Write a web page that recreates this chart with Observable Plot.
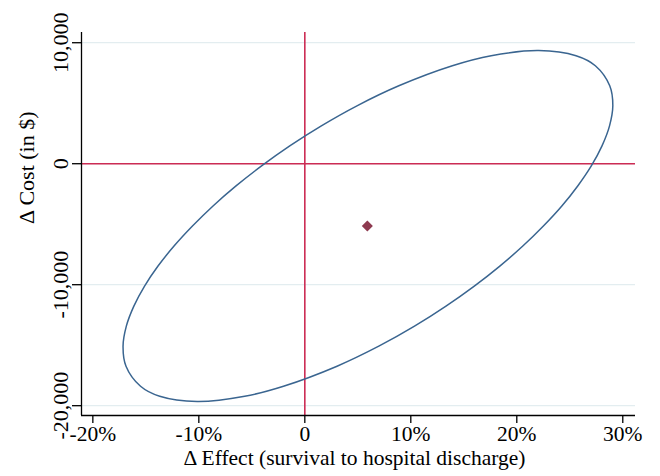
<!DOCTYPE html>
<html><head><meta charset="utf-8">
<script src="https://cdn.jsdelivr.net/npm/d3@7"></script>
<script src="https://cdn.jsdelivr.net/npm/@observablehq/plot@0.6"></script>
<style>
html,body{margin:0;padding:0;background:#fff;}
</style></head><body><div id="chart"></div>
<script>
// Confidence ellipse outline (Δ effect in %, Δ cost in $)
const ellipseEffect = [22.07, 25.59, 27.41, 28.77, 29.06, 28.75, 28.04, 27.03, 25.75, 24.25, 22.51, 20.57, 18.40, 15.99, 13.32, 10.35, 6.98, 3.04, -2.01, -5.67, -10.16, -13.69, -15.50, -16.87, -17.15, -16.84, -16.13, -15.12, -13.85, -12.34, -10.60, -8.66, -6.49, -4.08, -1.42, 1.56, 4.92, 8.87, 13.92, 17.58];
const ellipseCost = [9354, 8924, 8096, 6440, 4785, 3129, 1473, -182, -1838, -3493, -5149, -6805, -8460, -10116, -11771, -13427, -15083, -16738, -18394, -19222, -19652, -19222, -18394, -16738, -15083, -13427, -11771, -10116, -8460, -6805, -5149, -3493, -1838, -182, 1473, 3129, 4785, 6440, 8096, 8924];
// Point estimate
const pointEffect = [5.9];
const pointCost = [-5150];
// Axes
const xTicks = [-20, -10, 0, 10, 20, 30];
const xTickLabels = ["-20%", "-10%", "0", "10%", "20%", "30%"];
const yTicks = [10000, 0, -10000, -20000];
const yTickLabels = ["10,000", "0", "-10,000", "-20,000"];
const xDomain = [-21.07, 31.2];
const yDomain = [-20811, 10845];
const xTitle = "Δ Effect (survival to hospital discharge)";
const yTitle = "Δ Cost (in $)";

const ellipse = ellipseEffect.map((x, i) => ({x, y: ellipseCost[i]}));
const point = pointEffect.map((x, i) => ({x, y: pointCost[i]}));
const FS = 22;
const FSX = 21.5;

const chart = Plot.plot({
  width: 660,
  height: 476,
  marginLeft: 81,
  marginRight: 25,
  marginTop: 32,
  marginBottom: 61,
  style: {fontFamily: "'Liberation Serif', 'Times New Roman', serif", fontSize: FS + "px", background: "#fff", color: "#000"},
  x: {domain: xDomain},
  y: {domain: yDomain},
  marks: [
    Plot.ruleY(yTicks, {stroke: "#e3edf0", strokeWidth: 1.2}),
    Plot.ruleX([0], {stroke: "#cc2c54", strokeWidth: 1.6}),
    Plot.ruleY([0], {stroke: "#cc2c54", strokeWidth: 1.6}),
    Plot.line(ellipse, {x: "x", y: "y", curve: "catmull-rom-closed", stroke: "#3a6590", strokeWidth: 1.5}),
    Plot.dot(point, {x: "x", y: "y", symbol: "diamond2", r: 5, fill: "#8e3a50", stroke: "none"}),
    Plot.axisX({ticks: xTicks, tickSize: 8, tickPadding: 2, tickFormat: (d) => xTickLabels[xTicks.indexOf(d)], label: null, strokeWidth: 1.3, fontSize: FSX}),
    Plot.axisY({ticks: yTicks, tickSize: 9, fill: "none", label: null, strokeWidth: 1.3}),
    Plot.text(yTicks, {y: (d) => d, text: (d) => yTickLabels[yTicks.indexOf(d)], frameAnchor: "left", dx: -20.5, rotate: -90, textAnchor: "middle", lineAnchor: "middle", fontSize: FS}),
    Plot.ruleX([xDomain[0]], {stroke: "#000", strokeWidth: 1.3}),
    Plot.ruleY([yDomain[0]], {stroke: "#000", strokeWidth: 1.3}),
    Plot.text([xTitle], {frameAnchor: "bottom", dx: -4, dy: 49.5, fontSize: FSX}),
    Plot.text([yTitle], {frameAnchor: "left", dx: -55, rotate: -90, fontSize: FS})
  ]
});
document.getElementById("chart").appendChild(chart);
</script>
</body></html>
